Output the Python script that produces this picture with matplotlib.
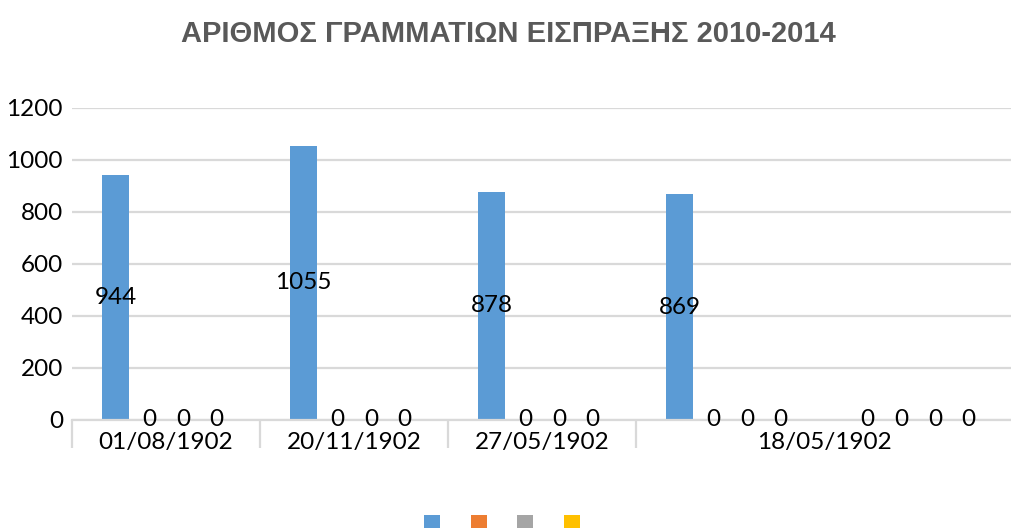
import matplotlib.pyplot as plt
from matplotlib.patches import Patch
import numpy as np

# chart data
slot_labels = ['01/08/1902', '20/11/1902', '27/05/1902', '18/05/1902']
label_spans = [1, 1, 1, 2]   # the last date label spans the last two slots
series_values = [
    [944, 1055, 878, 869, 0],
    [0, 0, 0, 0, 0],
    [0, 0, 0, 0, 0],
    [0, 0, 0, 0, 0],
]
series_colors = ['#5B9BD5', '#ED7D31', '#A5A5A5', '#FFC000']
yticks = [0, 200, 400, 600, 800, 1000, 1200]
title = 'ΑΡΙΘΜΟΣ ΓΡΑΜΜΑΤΙΩΝ ΕΙΣΠΡΑΞΗΣ 2010-2014'

W, H = 1012, 528
label_font = ['Lato', 'DejaVu Sans']
grid_col = '#D9D9D9'

fig = plt.figure(figsize=(W / 100, H / 100), dpi=100)
ax = fig.add_axes([72 / W, (H - 420) / H, (1012 - 72) / W, (420 - 108) / H])

n_slots = len(series_values[0])
x = np.arange(n_slots)
step = 34 / 190
width = 28 / 190
offsets = (np.arange(len(series_values)) - (len(series_values) - 1) / 2) * step

for vals, col, off in zip(series_values, series_colors, offsets):
    bars = ax.bar(x + off, vals, width=width, color=col, zorder=3)
    for b, v in zip(bars, vals):
        ax.text(b.get_x() + b.get_width() / 2, v / 2, str(v),
                ha='center', va='center', fontsize=17.5, family=label_font,
                color='#000000', zorder=4)

ax.set_xlim(-0.5, n_slots - 0.5)
ax.set_ylim(0, 1200)
ax.set_yticks(yticks)
ax.yaxis.grid(True, color=grid_col, linewidth=1.6, zorder=0)
ax.tick_params(axis='y', length=0, pad=6.5, labelsize=17.5, labelcolor='#000000')
for lab in ax.get_yticklabels():
    lab.set_family(label_font)

# category labels centred over their spans, separators between them
edges = np.concatenate([[0], np.cumsum(label_spans)]) - 0.5
centers = (edges[:-1] + edges[1:]) / 2
ax.set_xticks(centers)
ax.set_xticklabels(slot_labels, fontsize=17.5, family=label_font, color='#000000')
ax.set_xticks(edges[:-1], minor=True)
ax.tick_params(axis='x', which='major', length=0, pad=9)
ax.tick_params(axis='x', which='minor', length=20, width=1.6, color=grid_col)

for s in ['top', 'right', 'left']:
    ax.spines[s].set_visible(False)
ax.spines['bottom'].set_color(grid_col)
ax.spines['bottom'].set_linewidth(1.6)
ax.spines['bottom'].set_zorder(3.5)

fig.text(508 / W, 1 - 34 / H, title, ha='center', va='center',
         fontsize=21, fontweight='bold', color='#595959',
         family=['Liberation Sans', 'DejaVu Sans'])

handles = [Patch(facecolor=c, edgecolor='none') for c in series_colors]
fig.legend(handles, [''] * 4, loc='center', bbox_to_anchor=(502 / W, 1 - 522 / H),
           ncol=4, frameon=False, fontsize=10, handlelength=1.15,
           handleheight=1.15, handletextpad=0, columnspacing=2.2,
           borderpad=0)

fig.savefig('out.png', dpi=100)
